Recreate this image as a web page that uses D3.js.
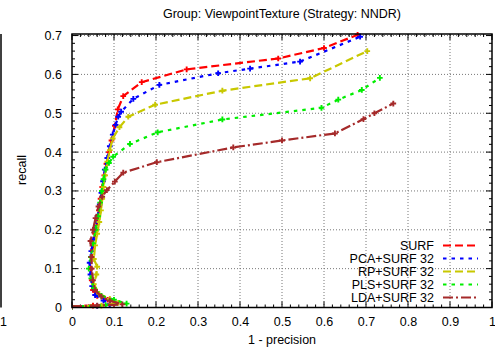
<!DOCTYPE html>
<html>
<head>
<meta charset="utf-8">
<script src="https://cdn.jsdelivr.net/npm/d3@7"></script>
<style>
  html, body { margin: 0; padding: 0; background: #fff; }
  svg { display: block; font-family: "Liberation Sans", Arial, sans-serif; }
</style>
</head>
<body>
<svg id="chart" width="495" height="349"></svg>
<script>
// Precision/recall curves (x = 1 - precision, y = recall)
const seriesNames = ["SURF", "PCA+SURF 32", "RP+SURF 32", "PLS+SURF 32", "LDA+SURF 32"];

const surfPts = [
  [0.0, 0.003], [0.05, 0.005], [0.10, 0.010], [0.085, 0.020], [0.06, 0.030],
  [0.05, 0.045], [0.047, 0.070], [0.045, 0.100], [0.047, 0.130], [0.05, 0.160],
  [0.055, 0.190], [0.06, 0.220], [0.064, 0.250], [0.068, 0.280], [0.072, 0.310],
  [0.077, 0.340], [0.082, 0.370], [0.088, 0.400], [0.094, 0.430], [0.102, 0.468],
  [0.109, 0.510], [0.122, 0.544], [0.166, 0.580], [0.273, 0.613], [0.491, 0.641],
  [0.60, 0.668], [0.68, 0.702]
];
const pcaPts = [
  [0.0, 0.002], [0.06, 0.004], [0.09, 0.008], [0.075, 0.018], [0.055, 0.032],
  [0.048, 0.055], [0.044, 0.085], [0.042, 0.115], [0.046, 0.145], [0.051, 0.175],
  [0.056, 0.205], [0.061, 0.235], [0.066, 0.265], [0.07, 0.295], [0.074, 0.325],
  [0.078, 0.355], [0.084, 0.385], [0.09, 0.415], [0.097, 0.445], [0.104, 0.470],
  [0.110, 0.491], [0.117, 0.504], [0.146, 0.537], [0.208, 0.573], [0.348, 0.603],
  [0.424, 0.615], [0.543, 0.633], [0.686, 0.697]
];
const rpPts = [
  [0.0, 0.002], [0.07, 0.005], [0.11, 0.012], [0.09, 0.022], [0.065, 0.035],
  [0.052, 0.060], [0.058, 0.085], [0.060, 0.105], [0.052, 0.125], [0.055, 0.160],
  [0.060, 0.190], [0.065, 0.220], [0.069, 0.250], [0.072, 0.280], [0.075, 0.310],
  [0.079, 0.340], [0.084, 0.375], [0.090, 0.405], [0.097, 0.435], [0.113, 0.464],
  [0.134, 0.491], [0.198, 0.522], [0.358, 0.558], [0.567, 0.590], [0.703, 0.660]
];
const plsPts = [
  [0.0, 0.002], [0.08, 0.006], [0.13, 0.010], [0.10, 0.020], [0.07, 0.030],
  [0.052, 0.050], [0.046, 0.075], [0.040, 0.100], [0.045, 0.130], [0.050, 0.165],
  [0.056, 0.200], [0.062, 0.235], [0.067, 0.270], [0.071, 0.300], [0.075, 0.330],
  [0.080, 0.355], [0.088, 0.372], [0.098, 0.388], [0.138, 0.421], [0.204, 0.451],
  [0.358, 0.484], [0.594, 0.514], [0.634, 0.535], [0.690, 0.560], [0.733, 0.591]
];
const ldaPts = [
  [0.0, 0.003], [0.06, 0.005], [0.12, 0.008], [0.09, 0.018], [0.07, 0.028],
  [0.055, 0.045], [0.050, 0.070], [0.047, 0.100], [0.046, 0.130], [0.044, 0.171],
  [0.050, 0.200], [0.056, 0.230], [0.063, 0.260], [0.072, 0.285], [0.083, 0.302],
  [0.102, 0.324], [0.122, 0.347], [0.202, 0.374], [0.384, 0.412], [0.50, 0.430],
  [0.626, 0.448], [0.694, 0.485], [0.72, 0.500], [0.765, 0.525]
];
const seriesValues = [surfPts, pcaPts, rpPts, plsPts, ldaPts];

const xTicks = [0, 0.1, 0.2, 0.3, 0.4, 0.5, 0.6, 0.7, 0.8, 0.9, 1];
const yTicks = [0, 0.1, 0.2, 0.3, 0.4, 0.5, 0.6, 0.7];

const colors = ["#ff0000", "#0000ff", "#c8c800", "#00ee00", "#a52a2a"];
const dashes = ["8,4", "3.5,5", "8,4", "3.5,5", "10,3,2,3"];

const svg = d3.select("#chart");
const L = 72, R = 492, T = 34, B = 307.5;
const x = d3.scaleLinear().domain([0, 1]).range([L, R]);
const y = d3.scaleLinear().domain([0, 0.704]).range([B, T]);

// Neighbouring panel edge on the far left
svg.append("line").attr("x1", 1).attr("x2", 1).attr("y1", T).attr("y2", B)
  .attr("stroke", "#000").attr("stroke-width", 1.5);
svg.append("text").attr("x", 0).attr("y", 326).attr("text-anchor", "start")
  .attr("font-size", 12.5).text("1");

// Grid
const grid = svg.append("g");
xTicks.slice(1, -1).forEach(t => {
  grid.append("line").attr("x1", x(t)).attr("x2", x(t)).attr("y1", T).attr("y2", B)
    .attr("stroke", "#777").attr("stroke-width", 1).attr("stroke-dasharray", "1,2");
});
yTicks.slice(1).forEach(t => {
  grid.append("line").attr("x1", L).attr("x2", R).attr("y1", y(t)).attr("y2", y(t))
    .attr("stroke", "#777").attr("stroke-width", 1).attr("stroke-dasharray", "1,2");
});

// Axes with inward ticks, mirrored on top/right
const minorX = d3.range(0, 1.0001, 0.02);
const minorY = d3.range(0, 0.7001, 0.02);
const tickG = svg.append("g").attr("stroke", "#000").attr("stroke-width", 1);
minorX.forEach(t => {
  const major = xTicks.some(m => Math.abs(m - t) < 1e-6);
  const len = major ? 6 : 3;
  tickG.append("line").attr("x1", x(t)).attr("x2", x(t)).attr("y1", B).attr("y2", B - len);
  tickG.append("line").attr("x1", x(t)).attr("x2", x(t)).attr("y1", T).attr("y2", T + len);
});
minorY.forEach(t => {
  const major = yTicks.some(m => Math.abs(m - t) < 1e-6);
  const len = major ? 6 : 3;
  tickG.append("line").attr("x1", L).attr("x2", L + len).attr("y1", y(t)).attr("y2", y(t));
  tickG.append("line").attr("x1", R).attr("x2", R - len).attr("y1", y(t)).attr("y2", y(t));
});

const xAxis = d3.axisBottom(x).tickValues(xTicks).tickSize(0).tickPadding(10)
  .tickFormat(d => d3.format("")(+d.toFixed(1)));
svg.append("g").attr("transform", `translate(0,${B})`).call(xAxis)
  .call(g => g.select(".domain").remove())
  .selectAll("text").attr("font-size", 12.5).attr("fill", "#000")
  .attr("font-family", "Liberation Sans, Arial, sans-serif");

const yAxis = d3.axisLeft(y).tickValues(yTicks).tickSize(0).tickPadding(10)
  .tickFormat(d => d3.format("")(+d.toFixed(1)));
svg.append("g").attr("transform", `translate(${L},0)`).call(yAxis)
  .call(g => g.select(".domain").remove())
  .selectAll("text").attr("font-size", 12.5).attr("fill", "#000")
  .attr("font-family", "Liberation Sans, Arial, sans-serif");

// Series
const clip = svg.append("clipPath").attr("id", "plotclip");
clip.append("rect").attr("x", L).attr("y", T - 3).attr("width", R - L).attr("height", B - T + 6);
const plot = svg.append("g").attr("clip-path", "url(#plotclip)");
const line = d3.line().x(d => x(d[0])).y(d => y(d[1]));
seriesValues.forEach((pts, i) => {
  plot.append("path").datum(pts).attr("d", line)
    .attr("fill", "none").attr("stroke", colors[i]).attr("stroke-width", 2.2)
    .attr("stroke-dasharray", dashes[i]);
  plot.selectAll(null).data(pts).enter().append("path")
    .attr("d", d3.symbol().type(d3.symbolCross).size(18))
    .attr("transform", d => `translate(${x(d[0])},${y(d[1])})`)
    .attr("fill", colors[i]);
});

// Frame
svg.append("rect").attr("x", L).attr("y", T).attr("width", R - L).attr("height", B - T)
  .attr("fill", "none").attr("stroke", "#000").attr("stroke-width", 1.5);

// Legend
const leg = svg.append("g");
seriesNames.forEach((name, i) => {
  const ly = 245.5 + i * 13;
  leg.append("text").attr("x", 434).attr("y", ly + 4.5).attr("text-anchor", "end")
    .attr("font-size", 12.5).text(name);
  leg.append("line").attr("x1", 443).attr("x2", 478).attr("y1", ly).attr("y2", ly)
    .attr("stroke", colors[i]).attr("stroke-width", 2).attr("stroke-dasharray", dashes[i]);
});

// Titles
svg.append("text").attr("x", 282).attr("y", 18).attr("text-anchor", "middle")
  .attr("font-size", 12.5).text("Group: ViewpointTexture (Strategy: NNDR)");
svg.append("text").attr("x", 282).attr("y", 344).attr("text-anchor", "middle")
  .attr("font-size", 12.5).text("1 - precision");
svg.append("text").attr("transform", "translate(26,170) rotate(-90)")
  .attr("text-anchor", "middle").attr("font-size", 12.5).text("recall");
</script>
</body>
</html>
